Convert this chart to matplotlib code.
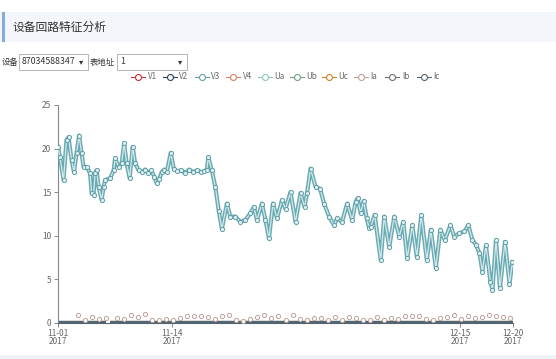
import numpy as np
import matplotlib
matplotlib.use("Agg")
import matplotlib.pyplot as plt
from matplotlib.patches import Rectangle
from matplotlib.lines import Line2D

plt.rcParams['font.family'] = ['Noto Sans CJK SC', 'DejaVu Sans']

# ---------------- data ----------------
title = "设备回路特征分析"
device_id = "87034588347"
meter_addr = "1"
series_names = ["V1", "V2", "V3", "V4", "Ua", "Ub", "Uc", "Ia", "Ib", "Ic"]
palette = ['#c23531', '#2f4554', '#61a0a8', '#d48265', '#91c7ae',
           '#749f83', '#ca8622', '#bda29a', '#6e7074', '#546570']

tick_records = [0, 228, 802, 908]
tick_labels = ["11-01\n2017", "11-14\n2017", "12-15\n2017", "12-20\n2017"]

rec = [0, 4, 11, 17, 21, 27, 32, 37, 42, 47, 51, 57, 64, 67, 71, 74, 77, 81, 87, 91,
       94, 104, 111, 114, 121, 127, 132, 137, 143, 149, 154, 161, 168, 174, 180, 186,
       192, 197, 202, 207, 212, 217, 225, 231, 238, 246, 254, 262, 270, 278, 286, 292,
       297, 300, 307, 314, 321, 327, 337, 344, 354, 364, 374, 384, 391, 397, 407, 414,
       421, 429, 437, 447, 454, 464, 474, 484, 492, 497, 504, 514, 523, 531, 541, 551,
       557, 567, 577, 587, 594, 598, 604, 610, 616, 621, 624, 632, 644, 651, 661, 671,
       681, 689, 697, 707, 716, 725, 736, 744, 754, 763, 772, 783, 791, 801, 811, 819,
       827, 834, 841, 847, 854, 863, 867, 874, 882, 892, 901, 907]
v3 = [20.2, 19.0, 16.4, 21.0, 21.3, 18.7, 17.3, 19.5, 21.5, 19.5, 17.9, 17.9, 17.2, 14.9,
      14.7, 17.2, 17.5, 15.6, 14.1, 15.6, 16.4, 16.6, 17.5, 18.9, 17.9, 18.3, 20.6, 18.3,
      16.6, 20.2, 18.3, 17.5, 17.3, 17.6, 17.2, 17.5, 16.8, 16.0, 16.5, 17.3, 17.6, 17.3,
      19.5, 17.7, 17.4, 17.5, 17.2, 17.6, 17.3, 17.5, 17.3, 17.4, 17.6, 19.0, 17.5, 15.6,
      12.8, 10.8, 13.7, 12.2, 12.2, 11.6, 11.8, 12.6, 13.3, 11.8, 13.7, 11.8, 9.7, 13.7,
      12.0, 14.1, 13.1, 15.0, 11.6, 14.9, 13.3, 14.9, 17.7, 15.6, 15.4, 13.7, 12.2, 11.2,
      12.0, 11.6, 13.7, 11.8, 13.9, 14.3, 12.6, 14.0, 12.0, 10.9, 11.0, 12.4, 7.2, 12.2,
      8.7, 12.2, 9.9, 11.6, 7.4, 11.2, 7.6, 12.4, 7.2, 10.7, 6.3, 10.7, 9.5, 11.2, 9.9,
      10.3, 10.5, 11.2, 9.5, 9.0, 8.0, 5.9, 8.9, 4.7, 3.8, 9.5, 4.0, 9.3, 4.5, 7.0]

ia_rec = [40, 54, 68, 82, 96, 118, 132, 146, 160, 174, 188, 202, 216, 230, 244, 258, 272,
          286, 300, 314, 328, 342, 356, 370, 384, 398, 412, 426, 440, 454, 468, 482, 496,
          510, 524, 538, 552, 566, 580, 594, 608, 622, 636, 650, 664, 678, 692, 706, 720,
          734, 748, 762, 776, 790, 804, 818, 832, 846, 860, 874, 888, 902]
ia = [0.9, 0.4, 0.7, 0.5, 0.6, 0.6, 0.5, 0.9, 0.7, 1.0, 0.4, 0.4, 0.5, 0.3, 0.6, 0.8,
      0.8, 0.8, 0.7, 0.5, 0.8, 0.9, 0.4, 0.2, 0.5, 0.7, 0.9, 0.6, 0.8, 0.4, 0.9, 0.5,
      0.3, 0.6, 0.6, 0.4, 0.7, 0.3, 0.7, 0.6, 0.4, 0.3, 0.7, 0.4, 0.6, 0.5, 0.8, 0.8,
      0.8, 0.5, 0.4, 0.6, 0.7, 0.9, 0.5, 0.8, 0.6, 0.7, 0.9, 0.8, 0.7, 0.6]

ib_rec = [0, 96, 100, 104, 908]
ib = [0, 0, np.nan, 0, 0]

# ---------------- figure ----------------
W, H = 556, 359
fig = plt.figure(figsize=(W / 100, H / 100), dpi=100)
fig.patch.set_facecolor('white')


def fx(px):
    return px / W


def fy(py):
    return 1 - py / H


# header band
fig.patches.append(Rectangle((fx(0), fy(42)), fx(556), 30 / H, transform=fig.transFigure,
                             facecolor='#f3f6fa', edgecolor='none', zorder=0))
fig.patches.append(Rectangle((fx(2), fy(42)), 2.5 / W, 30 / H, transform=fig.transFigure,
                             facecolor='#86acd9', edgecolor='none', zorder=1))
fig.text(fx(13), fy(27.5), title, fontsize=8.5, color='#333333', va='center', ha='left')

# controls
fig.text(fx(1.5), fy(62), "设备", fontsize=6, color='#333333', va='center')
fig.patches.append(Rectangle((fx(19), fy(70)), 69 / W, 16 / H, transform=fig.transFigure,
                             facecolor='white', edgecolor='#b5b5b5', lw=0.7))
fig.text(fx(22), fy(62), device_id, fontsize=6.3, color='#333333', va='center')
fig.text(fx(79), fy(61.5), "▾", fontsize=6, color='#333333', va='center')
fig.text(fx(90), fy(62), "表地址", fontsize=6, color='#333333', va='center')
fig.patches.append(Rectangle((fx(117), fy(70)), 70 / W, 16 / H, transform=fig.transFigure,
                             facecolor='white', edgecolor='#b5b5b5', lw=0.7))
fig.text(fx(120), fy(62), meter_addr, fontsize=6.3, color='#333333', va='center')
fig.text(fx(178), fy(61.5), "▾", fontsize=6, color='#333333', va='center')

# legend
for i, (name, col) in enumerate(zip(series_names, palette)):
    cx = 138 + i * 31.8
    fig.add_artist(Line2D([fx(cx - 7), fx(cx + 7)], [fy(76.5), fy(76.5)],
                          transform=fig.transFigure, color=col, lw=0.8))
    fig.add_artist(Line2D([fx(cx)], [fy(76.5)], transform=fig.transFigure, marker='o',
                          ms=4.3, mfc='white', mec=col, mew=0.8))
    fig.text(fx(cx + 9.5), fy(76.5), name, fontsize=5.8, color='#666666', va='center')

# bottom strip
fig.patches.append(Rectangle((0, 0), 1, 4 / H, transform=fig.transFigure,
                             facecolor='#eef3f8', edgecolor='none'))

# chart axes
ax = fig.add_axes([fx(58), 1 - 323 / H, (513 - 58) / W, (323 - 105) / H])
ax.set_facecolor('none')

ax.plot(ib_rec, ib, color=palette[9], lw=3.2, solid_capstyle='butt', zorder=2)
ax.plot(ia_rec, ia, linestyle='none', marker='o', ms=3.0, mfc='white',
        mec=palette[7], mew=0.7, zorder=3)
ax.plot(rec, v3, color=palette[1], lw=1.0, zorder=4)
ax.plot(rec, v3, color='#6aaab2', lw=3.0, zorder=5, solid_joinstyle='round')
ax.plot(rec, v3, color='#d3eaec', lw=0.9, zorder=6, marker='o', ms=3.0,
        mfc='#e2f1f3', mec='#5f9ea6', mew=0.7)

ax.set_xlim(0, 908)
ax.set_ylim(0, 25)
ax.set_yticks([0, 5, 10, 15, 20, 25])
ax.set_xticks(tick_records)
ax.set_xticklabels(tick_labels)
for s in ['top', 'right']:
    ax.spines[s].set_visible(False)
ax.spines['left'].set_color('#888888')
ax.spines['bottom'].set_color('#546570')
ax.spines['left'].set_linewidth(0.8)
ax.tick_params(axis='y', colors='#888888', labelcolor='#666666', labelsize=6,
               length=3, width=0.7, pad=2)
ax.tick_params(axis='x', colors='#888888', labelcolor='#666666', labelsize=6,
               length=3, width=0.7, pad=1)
for lbl in ax.get_xticklabels():
    lbl.set_linespacing(0.9)

fig.savefig("out.png", dpi=100)
